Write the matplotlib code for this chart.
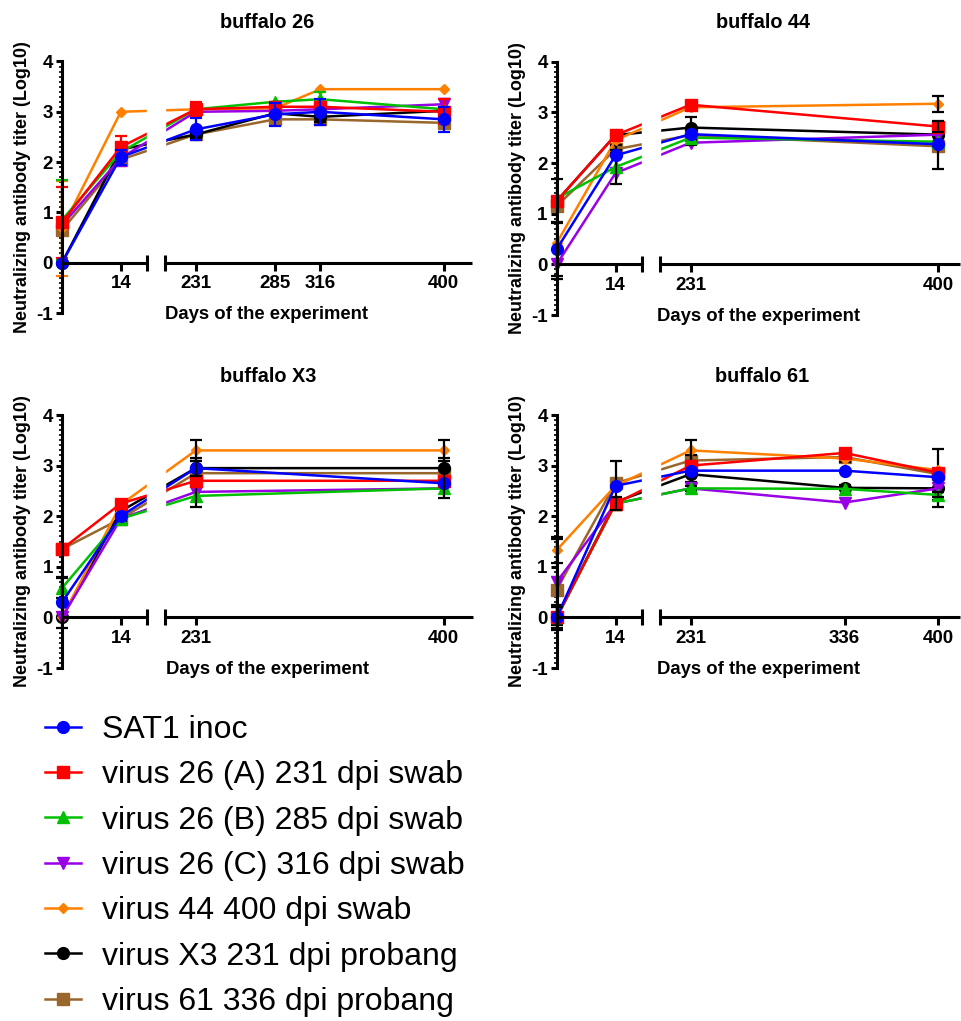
import numpy as np
import matplotlib
matplotlib.use('Agg')
import matplotlib.pyplot as plt

plt.rcParams['font.family'] = ['Liberation Sans', 'DejaVu Sans']
plt.rcParams['axes.unicode_minus'] = False

# ===== DATA =====
series_names = ['SAT1 inoc', 'virus 26 (A) 231 dpi swab', 'virus 26 (B) 285 dpi swab',
                'virus 26 (C) 316 dpi swab', 'virus 44 400 dpi swab',
                'virus X3 231 dpi probang', 'virus 61 336 dpi probang']
series_colors = ['#0000FF', '#FF0000', '#00C000', '#9900E6', '#FF8000', '#000000', '#99662B']
series_markers = ['o', 's', '^', 'v', 'D', 'o', 's']
marker_sizes = [8.5, 8, 8.5, 8.5, 5, 8.5, 8]

panel_titles = ['buffalo 26', 'buffalo 44', 'buffalo X3', 'buffalo 61']

days_26 = [0, 14, 231, 285, 316, 400]
titer_26 = [[0.0, 2.10, 2.65, 2.95, 3.00, 2.85],
            [0.80, 2.30, 3.05, 3.10, 3.10, 3.00],
            [0.85, 2.20, 3.05, 3.20, 3.25, 3.05],
            [0.75, 2.08, 3.00, 3.02, 3.05, 3.15],
            [0.68, 3.00, 3.05, 3.07, 3.45, 3.45],
            [0.0, 2.25, 2.55, 2.97, 2.90, 3.02],
            [0.65, 2.05, 2.55, 2.85, 2.85, 2.78]]
sd_26 = [[0, 0.15, 0.22, 0.23, 0.26, 0.25],
         [0.70, 0.22, 0.15, 0.10, 0.10, 0.25],
         [0.80, 0, 0, 0, 0.15, 0],
         [0, 0.15, 0, 0, 0, 0.10],
         [0.95, 0, 0, 0, 0, 0],
         [0, 0, 0.08, 0, 0.10, 0],
         [0, 0.10, 0, 0.10, 0.05, 0.10]]

days_44 = [0, 14, 231, 400]
titer_44 = [[0.30, 2.15, 2.57, 2.37],
            [1.25, 2.55, 3.15, 2.72],
            [1.30, 1.92, 2.50, 2.42],
            [0.0, 1.80, 2.40, 2.56],
            [0.42, 2.45, 3.10, 3.17],
            [1.25, 2.55, 2.70, 2.56],
            [1.15, 2.27, 2.55, 2.33]]
sd_44 = [[0.53, 0, 0, 0],
         [0, 0, 0, 0.10],
         [0, 0.33, 0, 0],
         [0.28, 0, 0.05, 0],
         [0, 0, 0, 0.16],
         [0.43, 0.05, 0.20, 0.25],
         [0, 0.08, 0.10, 0.45]]

days_X3 = [0, 14, 231, 400]
titer_X3 = [[0.30, 2.00, 2.95, 2.65],
            [1.35, 2.25, 2.70, 2.70],
            [0.58, 1.95, 2.40, 2.55],
            [0.0, 1.95, 2.48, 2.55],
            [0.0, 2.23, 3.30, 3.30],
            [0.0, 2.10, 2.95, 2.95],
            [1.35, 1.95, 2.85, 2.85]]
sd_X3 = [[0.50, 0, 0.15, 0.30],
         [0, 0, 0, 0],
         [0.20, 0, 0.22, 0],
         [0, 0, 0, 0],
         [0, 0, 0.20, 0.20],
         [0, 0.10, 0.20, 0.20],
         [0, 0.05, 0, 0]]

days_61 = [0, 14, 231, 336, 400]
titer_61 = [[0.0, 2.60, 2.90, 2.90, 2.77],
            [0.0, 2.25, 3.00, 3.25, 2.86],
            [0.0, 2.25, 2.55, 2.54, 2.42],
            [0.70, 2.25, 2.55, 2.27, 2.55],
            [1.33, 2.60, 3.30, 3.14, 2.91],
            [0.0, 2.28, 2.83, 2.56, 2.55],
            [0.55, 2.65, 3.10, 3.17, 2.83]]
sd_61 = [[0.20, 0, 0, 0, 0],
         [0.25, 0.13, 0, 0, 0],
         [0, 0, 0, 0, 0.05],
         [0.85, 0, 0.05, 0, 0],
         [0.25, 0, 0.20, 0, 0],
         [0, 0, 0.15, 0.05, 0.37],
         [0, 0.45, 0.10, 0.10, 0.50]]

panel_days = [days_26, days_44, days_X3, days_61]
panel_titer = [titer_26, titer_44, titer_X3, titer_61]
panel_sd = [sd_26, sd_44, sd_X3, sd_61]
black_errorbars = [False, True, True, True]


# ===== BROKEN X AXIS (GraphPad style: 0-20 days | gap | 210-420 days) =====
LEFT_END = 20.25
RIGHT_START = 210.0
PX_LEFT = 4.2      # pixels per day left of the break
PX_RIGHT = 1.4667  # pixels per day right of the break
GAP_LO = LEFT_END * PX_LEFT
GAP_HI = 103.0


def fwd(d):
    d = np.asarray(d, dtype=float)
    gap = GAP_LO + (d - LEFT_END) * (GAP_HI - GAP_LO) / (RIGHT_START - LEFT_END)
    return np.where(d <= LEFT_END, d * PX_LEFT,
                    np.where(d >= RIGHT_START, GAP_HI + (d - RIGHT_START) * PX_RIGHT, gap))


def inv(u):
    u = np.asarray(u, dtype=float)
    gap = LEFT_END + (u - GAP_LO) * (RIGHT_START - LEFT_END) / (GAP_HI - GAP_LO)
    return np.where(u <= GAP_LO, u / PX_LEFT,
                    np.where(u >= GAP_HI, RIGHT_START + (u - GAP_HI) / PX_RIGHT, gap))


W, H = 961, 1021
fig = plt.figure(figsize=(W / 100, H / 100), dpi=100)

# axes frames in pixels: left, top (y=4), bottom (y=-1), last day shown, title centre x
frames = [(62, 61.5, 313, 419, 267),
          (556.7, 61.7, 315, 415, 763),
          (62, 415, 668, 420, 268),
          (556.7, 415, 668, 415, 762)]

legend_handles = []
for k in range(4):
    left, top, bottom, xmax, title_x = frames[k]
    width = float(fwd(xmax))
    ax = fig.add_axes([left / W, 1 - bottom / H, width / W, (bottom - top) / H])
    ax.set_xscale('function', functions=(fwd, inv))
    ax.set_xlim(0, xmax)
    ax.set_ylim(-1, 4)

    days = panel_days[k]
    # draw last series first so SAT1 ends up on top
    for i in reversed(range(7)):
        y = np.array(panel_titer[k][i])
        err = np.array(panel_sd[k][i])
        line, = ax.plot(days, y, color=series_colors[i], marker=series_markers[i],
                        markersize=marker_sizes[i], lw=1.8, clip_on=False, zorder=3,
                        label=series_names[i])
        if k == 0:
            legend_handles.insert(0, line)
        has_err = err > 0
        if has_err.any():
            ecol = 'black' if black_errorbars[k] else series_colors[i]
            ax.errorbar(np.array(days)[has_err], y[has_err], yerr=err[has_err], fmt='none',
                        ecolor=ecol, elinewidth=1.6, capsize=4, capthick=1.6,
                        clip_on=False, zorder=3)

    # blank out the break (above the x axis only, so the x label stays visible)
    ax.axvspan(LEFT_END, RIGHT_START, ymin=0.19, ymax=1, color='white', zorder=4)

    for s in ['top', 'right']:
        ax.spines[s].set_visible(False)
    ax.spines['bottom'].set_position(('data', 0))
    ax.spines['bottom'].set_visible(False)
    ax.spines['left'].set_linewidth(2.2)
    ax.spines['left'].set_zorder(6)

    # two pieces of x axis with break marks
    ax.plot([0, LEFT_END], [0, 0], color='black', lw=2.2, clip_on=False, zorder=6,
            solid_capstyle='butt')
    ax.plot([RIGHT_START, xmax], [0, 0], color='black', lw=2.2, clip_on=False, zorder=6,
            solid_capstyle='butt')
    ax.plot([LEFT_END, RIGHT_START], [0, 0], ls='none', marker='|', markersize=11,
            mew=2.2, color='black', clip_on=False, zorder=6)

    xt = [d for d in days if d > 0]
    ax.set_xticks(xt)
    ax.set_xticklabels([str(d) for d in xt])
    ax.xaxis.set_minor_locator(plt.NullLocator())
    ax.tick_params(axis='x', direction='out', length=6, width=2.2, pad=3,
                   labelsize=13.5)
    ax.set_yticks([-1, 0, 1, 2, 3, 4])
    ax.set_yticks(np.arange(-1, 4.01, 0.1), minor=True)
    ax.tick_params(axis='y', which='major', direction='out', length=4.5, width=2.2,
                   labelsize=13.5, pad=2)
    ax.tick_params(axis='y', which='minor', direction='out', length=2.2, width=1.2)
    for lab in ax.get_xticklabels() + ax.get_yticklabels():
        lab.set_fontweight('bold')

    ax.set_ylabel('Neutralizing antibody titer (Log10)', fontsize=13, fontweight='bold')
    ax.yaxis.set_label_coords(-31 / width, 0.5)
    ax.set_xlabel('Days of the experiment', fontsize=13.3, fontweight='bold', va='center')
    ax.xaxis.set_label_coords(0.5, -0.005)
    ax.text((title_x - left) / width, 1 + 39 / (bottom - top), panel_titles[k],
            transform=ax.transAxes, ha='center', va='center', fontsize=14.3,
            fontweight='bold')

fig.legend(legend_handles, series_names, loc='upper left',
           bbox_to_anchor=(45 / W, 1 - 715 / H), frameon=False, fontsize=23,
           borderpad=0, borderaxespad=0, handlelength=1.12, handletextpad=0.65,
           labelspacing=0.48)

plt.savefig('out.png', dpi=100)
